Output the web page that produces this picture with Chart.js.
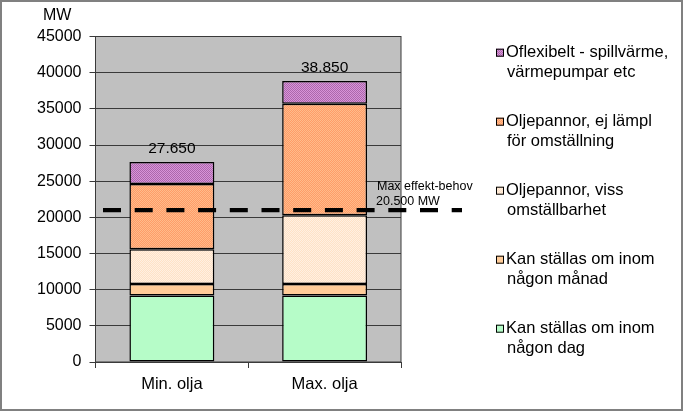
<!DOCTYPE html>
<html>
<head>
<meta charset="utf-8">
<script src="https://cdn.jsdelivr.net/npm/chart.js@4"></script>
<style>
  body { margin: 0; background: #fff; }
  canvas { display: block; }
</style>
</head>
<body>
<canvas id="chart" width="683" height="411"></canvas>
<script>
// data
const categories = ["Min. olja", "Max. olja"];
const dagValues = [9200, 9200];
const manadValues = [1600, 1600];
const vissValues = [4800, 9500];
const ejLamplValues = [9000, 15400];
const oflexValues = [3050, 3150];
const seriesLabels = [
  ["Kan ställas om inom", "någon dag"],
  ["Kan ställas om inom", "någon månad"],
  ["Oljepannor, viss", "omställbarhet"],
  ["Oljepannor, ej lämpl", "för omställning"],
  ["Oflexibelt - spillvärme,", "värmepumpar etc"],
];
const maxBehov = 21000;
const maxBehovLabel = ["Max effekt-behov", "20.500 MW"];
const yUnit = "MW";

const FONT = "'Liberation Sans', Arial, sans-serif";

function checker(c1, c2) {
  const p = document.createElement("canvas");
  p.width = 2;
  p.height = 2;
  const g = p.getContext("2d");
  g.fillStyle = c1;
  g.fillRect(0, 0, 2, 2);
  g.fillStyle = c2;
  g.fillRect(0, 0, 1, 1);
  g.fillRect(1, 1, 1, 1);
  return g.createPattern(p, "repeat");
}

const fills = [
  "#b6fcc8",
  "#ffcc99",
  checker("#ffe2c6", "#fff0e2"),
  checker("#ff9c68", "#ffbb8a"),
  checker("#d894d8", "#ac68ac"),
];

const seriesData = [dagValues, manadValues, vissValues, ejLamplValues, oflexValues];

function fmt(n) {
  return String(n).replace(/\B(?=(\d{3})+(?!\d))/g, ".");
}

const decor = {
  id: "decor",
  beforeDraw(chart) {
    const { ctx, chartArea: a } = chart;
    ctx.save();
    ctx.fillStyle = "#c0c0c0";
    ctx.fillRect(a.left, a.top, a.right - a.left, a.bottom - a.top);
    ctx.restore();
  },
  beforeDatasetsDraw(chart) {
    const { ctx, chartArea: a } = chart;
    ctx.save();
    ctx.strokeStyle = "#3a3a3a";
    ctx.lineWidth = 1;
    ctx.strokeRect(a.left, a.top, a.right - a.left, a.bottom - a.top);
    ctx.restore();
  },
  afterDatasetsDraw(chart) {
    const { ctx } = chart;
    const y = chart.scales.y;
    ctx.save();
    // totals
    ctx.font = "15.5px " + FONT;
    ctx.fillStyle = "#000";
    ctx.textAlign = "center";
    ctx.textBaseline = "middle";
    const top = chart.getDatasetMeta(seriesData.length - 1);
    categories.forEach((c, i) => {
      let sum = 0;
      seriesData.forEach(s => sum += s[i]);
      const el = top.data[i];
      ctx.fillText(fmt(sum), el.x, y.getPixelForValue(sum) - 13.5);
    });
    // max effekt-behov line
    const ly = y.getPixelForValue(maxBehov);
    ctx.strokeStyle = "#000";
    ctx.lineWidth = 4.3;
    ctx.setLineDash([18, 13.7]);
    ctx.beginPath();
    ctx.moveTo(chart.chartArea.left + 7.5, ly);
    ctx.lineTo(462, ly);
    ctx.stroke();
    ctx.setLineDash([]);
    ctx.font = "12.5px " + FONT;
    ctx.textAlign = "left";
    ctx.fillText(maxBehovLabel[0], 377, ly - 24);
    ctx.fillText(maxBehovLabel[1], 376, ly - 9);
    ctx.restore();
  },
  afterDraw(chart) {
    const { ctx } = chart;
    ctx.save();
    // unit
    ctx.font = "16px " + FONT;
    ctx.fillStyle = "#000";
    ctx.textAlign = "left";
    ctx.textBaseline = "middle";
    ctx.fillText(yUnit, 43, 16);
    // legend
    ctx.font = "16.5px " + FONT;
    for (let k = 0; k < seriesLabels.length; k++) {
      const idx = seriesLabels.length - 1 - k;
      const cy = 52.7 + k * 69;
      ctx.fillStyle = fills[idx];
      ctx.fillRect(496, cy - 4, 8, 8);
      ctx.strokeStyle = "#000";
      ctx.lineWidth = 1;
      ctx.strokeRect(496.5, cy - 3.5, 7, 7);
      ctx.fillStyle = "#000";
      ctx.fillText(seriesLabels[idx][0], 506, cy);
      ctx.fillText(seriesLabels[idx][1], 507, cy + 19.5);
    }
    // outer frame
    ctx.strokeStyle = "#808080";
    ctx.lineWidth = 2;
    ctx.strokeRect(1, 1, 681, 409);
    ctx.restore();
  },
};

new Chart(document.getElementById("chart"), {
  type: "bar",
  data: {
    labels: categories,
    datasets: seriesData.map((d, i) => ({
      label: seriesLabels[i].join(" "),
      data: d,
      backgroundColor: fills[i],
      borderColor: "#000",
      borderWidth: 1.5,
      borderSkipped: false,
      barPercentage: 0.556,
      categoryPercentage: 1,
    })),
  },
  options: {
    responsive: false,
    animation: false,
    devicePixelRatio: 1,
    layout: {
      padding: { top: 36.5, left: 0, right: 282, bottom: 0 },
    },
    plugins: {
      legend: { display: false },
      tooltip: { enabled: false },
    },
    scales: {
      x: {
        stacked: true,
        grid: {
          display: true,
          drawOnChartArea: false,
          drawTicks: true,
          tickLength: 6,
          color: "#3a3a3a",
          offset: true,
        },
        border: { color: "#3a3a3a" },
        ticks: {
          color: "#000",
          font: { family: FONT, size: 16.5 },
          padding: 7,
        },
        afterFit(scale) {
          scale.height = 49;
        },
      },
      y: {
        stacked: true,
        min: 0,
        max: 45000,
        grid: {
          color: "#3a3a3a",
          tickLength: 6,
        },
        border: { color: "#3a3a3a" },
        ticks: {
          stepSize: 5000,
          color: "#000",
          font: { family: FONT, size: 16 },
          padding: 8,
          callback: v => String(v),
        },
        afterFit(scale) {
          scale.width = 95.5;
        },
      },
    },
  },
  plugins: [decor],
});
</script>
</body>
</html>
